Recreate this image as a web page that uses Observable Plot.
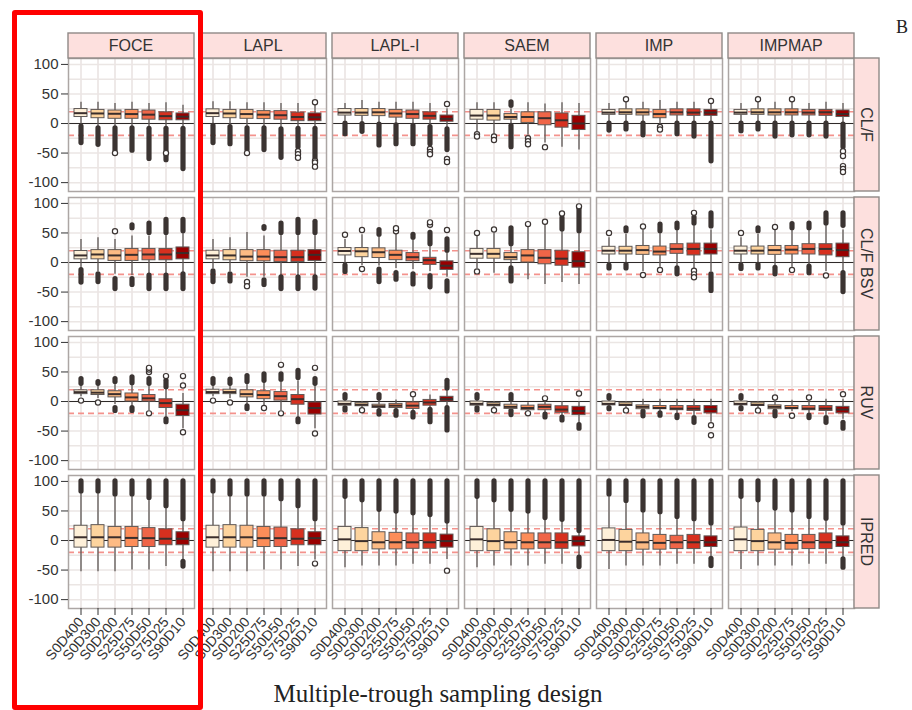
<!DOCTYPE html>
<html>
<head>
<meta charset="utf-8">
<script src="https://cdn.jsdelivr.net/npm/d3@7"></script>
<script src="https://cdn.jsdelivr.net/npm/@observablehq/plot@0.6"></script>
<style>
  body { margin: 0; background: #fff; }
  #wrap { position: relative; width: 912px; height: 710px; overflow: hidden; }
  #wrap svg { position: absolute; left: 0; top: 0; }
  .xtitle { position: absolute; top: 681px; left: 438px; transform: translateX(-50%);
            font: 25px/1 "Liberation Serif", "Times New Roman", serif; color: #222; white-space: nowrap; }
  .tag { position: absolute; top: 18px; left: 896px; font: 18px/1 "Liberation Serif", "Times New Roman", serif; color: #222; }
  .highlight { position: absolute; left: 12px; top: 10px; width: 191px; height: 700px;
               box-sizing: border-box; border: 5px solid #ff0000; border-radius: 3px; pointer-events: none; }
</style>
</head>
<body>
<div id="wrap"></div>
<script>
// Estimation methods (columns), parameters (rows) and sampling designs (x categories)
const methods = ["FOCE", "LAPL", "LAPL-I", "SAEM", "IMP", "IMPMAP"];
const params = ["CL/F", "CL/F BSV", "RUV", "IPRED"];
const designs = ["S0D400", "S0D300", "S0D200", "S25D75", "S50D50", "S75D25", "S90D10"];
const palette = ["#fef0d9", "#fdd49e", "#fdbb84", "#fc8d59", "#ef6548", "#d7301f", "#990000"];
const yTicks = [100, 50, 0, -50, -100];
const yGrid = [-100, -75, -50, -25, 0, 25, 50, 75, 100];
const refLines = [-20, 20];

// Box statistics per method and design: [lower whisker, Q1, median, Q3, upper whisker]
const clfBoxes = [
  [[-3,11,17.5,24.5,36],[-5,9,17,23,36],[-6,8,16.5,22,34],[-6,8,16,23,36],[-7,6.5,15,22,34],[-7,5.5,12.5,19,35],[-7,5.5,11.5,17,31]],
  [[-2,11,17.5,24,37],[-4,9,17,23,37],[-6,8,16,23,35],[-6,7.5,15,21,35],[-8,6.5,14,21,34],[-7,4,11,18.5,34],[-7,4,10.5,17,33]],
  [[4,13.5,18.5,24.5,34],[2,13,18.5,24.5,39],[0,12.5,19,24.5,36],[-1,10,17,23,36],[-2,8,16,22,36],[-4,6.5,13,19,34],[-8,3,8,13.5,25]],
  [[-14,6.5,13.5,23,35],[-18,5,13.5,23,35],[-2,6.5,11,16,25],[-20,1,11,19,35],[-33,-3,9,19,33],[-40,-7,5.5,17,35],[-45,-11,0,13,34]],
  [[2,14.7,18.5,23,34],[3,14.7,19,24,36],[2,13.6,19,24,36],[-2,9,16,23,39],[2,13.6,19,24,36],[2,13,18.5,24,36],[2,13,18.5,23,34]],
  [[2,14.7,18.5,23,34],[3,14.7,19,24,36],[2,13.6,19,24,36],[2,13.6,19,24,36],[3,13.6,18.5,23,34],[2,13,19,23,36],[0,11,16,22,34]]
];
const bsvBoxes = [
  [[-10,5.4,12,19.5,39],[-15,5.4,13.6,21,42],[-20,2.7,12,21,39],[-22,2.7,13,23,45],[-20,3.8,13.6,23,45],[-20,3.8,13.6,23,47],[-18,5.4,16,25.5,50]],
  [[-10,5.4,12,20,39],[-15,3.8,12,21,42],[-25,2.2,10,21,51],[-25,2,10,21,45],[-22,1,9,20,47],[-22,1,9,20,47],[-22,2.7,13,21,50]],
  [[-2,12,19.5,24.5,39],[-5,9,19,24.5,47],[-6,7.6,17.4,24,45],[-10,4,13,20,48],[-12,2.2,9,16,40],[-15,-4,4,8,28],[-25,-12.5,-5.4,2,18]],
  [[-10,6.5,14.7,23,45],[-18,6.5,14.7,23,53],[-8,4,9,16,28],[-29,0,12,21,61],[-37,-3,8,21,66],[-34,-5.4,6.5,20,55],[-37,-8.7,2.2,17.4,52]],
  [[-3,13.6,20,26.6,42],[-3,13.6,20,26.6,48],[-15,13,21,28,55],[-8,12,18.5,27,50],[-8,14.7,23,31,56],[-10,12,23,32,64],[-15,13.6,23,32,55]],
  [[-3,13.6,20,27,42],[-3,13.6,20,27,48],[-8,13,21,28,55],[-8,13.6,21.7,28,55],[-5,13.6,23,31,56],[-15,12,23,31,64],[-15,9,21,32,55]]
];
const ruvBoxes = [
  [[8,12.5,15.8,19,27],[5,11,15,19,28],[-5,7,12.5,17.4,30],[-8,0,7,13.6,30],[-15,0,5.4,11,28],[-28,-11,-2.7,3.8,22],[-46,-24.5,-14.7,-5.4,13.6]],
  [[8,12.5,16,20,27],[5,12.5,16,20,28],[-5,7,12.5,19,30],[-8,4,11,17.4,33],[-15,1.6,9,16,35],[-28,-5.4,4,11,35],[-46,-22,-11,-1.6,27]],
  [[-10,-7,-4,0,4],[-12,-8,-5.4,-2.7,0],[-14,-11,-8,-5.4,2],[-14,-11,-7,-4,2.7],[-17,-12.5,-7,-1.6,7],[-12,-7,-1.6,2.7,11],[-8,0,4,8,19]],
  [[-10,-7,-4,0,4],[-12,-8,-5.4,-2.7,0],[-15,-12.5,-9,-5.4,2],[-17,-14.7,-11,-7,-2],[-19,-14.7,-9,-5.4,0],[-25,-19,-13.6,-8,0],[-38,-23,-16,-9,0]],
  [[-10,-6.5,-4,0,4],[-12,-7.6,-5.4,-2,0],[-15,-13,-9,-6.5,4],[-17,-13,-11,-7.6,4],[-20,-14.7,-12,-7.6,4],[-24,-16,-12,-7.6,4],[-35,-20,-13,-7.6,4]],
  [[-10,-6.5,-4,0,4],[-12,-7.6,-5.4,-2,0],[-15,-13,-9,-6.5,4],[-17,-13,-11,-7.6,2],[-20,-14.7,-12,-7.6,4],[-24,-16,-12,-7.6,4],[-30,-20,-13.6,-9,4]]
];
const ipredBoxes = [
  [[-53,-12,5.5,25,82],[-53,-12,5.5,26,82],[-53,-12,5.5,23,78],[-50,-11,4.4,23,78],[-50,-11,4,21,72],[-44,-8,3,19,58],[-33,-8,3,14,36]],
  [[-53,-12,5.5,25,83],[-53,-12,5.5,26,78],[-53,-12,5.5,25,78],[-50,-11,4,23,78],[-50,-11,4,22,70],[-44,-8,3,19,58],[-33,-8,4,14,36]],
  [[-46,-18,2,23,74],[-43,-18,-1,21,68],[-43,-15,-3,14,52],[-43,-15,-3,13,49],[-40,-14,-3,12,46],[-40,-14,-3,12,43],[-32,-12,-1,10,32]],
  [[-46,-18,2,23,74],[-43,-18,-1,19,68],[-43,-15,-3,14,52],[-43,-15,-3,12,49],[-40,-14,-3,12,38],[-40,-14,-3,12,35],[-26,-10,-1,7,16]],
  [[-49,-18,1,20.5,78],[-43,-18,-2,18,67],[-43,-15.5,-3,12,51],[-43,-15.5,-4,9.5,48],[-40,-14.5,-3,8,40],[-40,-14.5,-3,9.5,36],[-29,-11,-3,7,29]],
  [[-49,-18,2,22,74],[-43,-18,-1,18,68],[-43,-15.5,-3,12,54],[-43,-15.5,-4,9.5,51],[-40,-14.5,-3,9.5,40],[-40,-14.5,-3,12,37],[-29,-11,-3,7,29]]
];

// Dense outlier columns: [method index, design index, from, to]
const clfRuns = [
  [0,0,-33,-5],[0,1,-36,-8],[0,2,-46,-8],[0,3,-46,-8],[0,4,-60,-9],[0,5,-62,-9],[0,6,-77,-9],
  [1,0,-33,-4],[1,1,-35,-6],[1,2,-45,-8],[1,3,-45,-8],[1,4,-58,-10],[1,5,-40,-9],[1,6,-58,-9],
  [2,0,-18,0],[2,1,-14,-1],[2,2,-37,-2],[2,3,-35,-3],[2,4,-35,-4],[2,5,-35,-6],[2,6,-45,-10],
  [3,2,-40,-4],[3,2,30,36],
  [4,0,-12,0],[4,1,-10,0],[4,2,-20,0],[4,4,-18,0],[4,5,-22,0],[4,6,-64,0],
  [5,0,-13,0],[5,1,-10,0],[5,2,-22,0],[5,3,-20,0],[5,4,-20,0],[5,5,-22,0],[5,6,-40,-2]
];
const bsvRuns = [
  [0,0,-34,-13],[0,1,-33,-20],[0,2,-45,-28],[0,3,58,63],[0,3,-38,-28],[0,4,50,66],[0,4,-45,-22],[0,5,50,72],[0,5,-45,-22],[0,6,53,72],[0,6,-45,-20],
  [1,0,-33,-15],[1,1,-32,-20],[1,3,57,60],[1,3,-38,-30],[1,4,50,66],[1,4,-45,-25],[1,5,50,72],[1,5,-45,-25],[1,6,50,69],[1,6,-44,-25],
  [2,0,-16,-5],[2,2,47,55],[2,2,-33,-12],[2,3,-29,-18],[2,4,42,47],[2,4,-37,-20],[2,5,31,50],[2,5,-42,-23],[2,6,20,39],[2,6,-49,-32],
  [3,2,31,58],[3,2,-32,-10],[3,5,56,75],[3,6,53,91],
  [4,0,-10,-5],[4,1,53,58],[4,1,-10,-4],[4,3,53,64],[4,4,58,66],[4,4,-20,-10],[4,5,66,76],[4,6,61,83],[4,6,-48,-20],
  [5,0,-11,-5],[5,1,53,58],[5,1,-10,-4],[5,2,-20,-9],[5,3,58,65],[5,4,58,66],[5,4,-18,-7],[5,5,66,83],[5,6,62,83],[5,6,-50,-18]
];
const ruvRuns = [
  [0,0,30,38],[0,1,30,33],[0,2,33,38],[0,2,-16,-11],[0,3,31,41],[0,3,-16,-11],[0,4,30,38],[0,5,24,35],[0,5,-35,-30],
  [1,0,30,38],[1,1,30,37],[1,2,33,43],[1,2,-12.5,-8],[1,3,35,46],[1,4,37,46],[1,5,40,52],[1,5,-35,-30],[1,6,30,38],
  [2,0,5,11],[2,0,-15,-11],[2,2,5,11],[2,2,-22,-16],[2,3,-24,-16],[2,4,-27,-19],[2,5,-35,-14],[2,6,22,35],[2,6,-49,-11],
  [3,0,5,11],[3,0,-15,-11],[3,2,3,11],[3,2,-23,-16],[3,4,-27,-22],[3,5,-32,-27],[3,6,-46,-40],
  [4,0,5,9],[4,0,-13,-11],[4,2,-25,-17],[4,3,-24,-20],[4,4,-28,-24],[4,5,-36,-28],
  [5,0,5,9],[5,0,-13,-11],[5,2,-25,-17],[5,4,-28,-24],[5,5,-36,-28],[5,6,-46,-36]
];
const ipredRuns = [
  [0,0,83,100],[0,1,83,100],[0,2,78,100],[0,3,78,100],[0,4,72,100],[0,5,58,100],[0,6,36,100],[0,6,-44,-36],
  [1,0,83,100],[1,1,78,100],[1,2,78,100],[1,3,78,100],[1,4,70,100],[1,5,58,100],[1,6,36,100],
  [2,0,74,100],[2,1,68,100],[2,2,52,100],[2,3,49,100],[2,4,46,100],[2,5,43,100],[2,6,32,100],
  [3,0,74,100],[3,1,68,100],[3,2,52,100],[3,3,49,100],[3,4,38,100],[3,5,35,100],[3,6,16,100],[3,6,-45,-29],
  [4,0,78,100],[4,1,67,100],[4,2,51,100],[4,3,48,100],[4,4,40,100],[4,5,36,100],[4,6,29,100],[4,6,-43,-31],
  [5,0,74,100],[5,1,68,100],[5,2,54,100],[5,3,51,100],[5,4,40,100],[5,5,37,100],[5,6,29,100],[5,6,-46,-32]
];

// Isolated outliers: [method index, design index, value]
const clfPoints = [
  [0,2,-50],[0,5,-50],[1,2,-50],[1,5,-47],[1,5,-52],[1,5,-58],[1,6,36],[1,6,-63],[1,6,-66],[1,6,-73],
  [2,5,-43],[2,5,-48],[2,5,-52],[2,6,33],[2,6,-60],[2,6,-65],
  [3,0,-18],[3,0,-22],[3,1,-22],[3,1,-28],[3,3,-25],[3,3,-30],[3,3,-35],[3,4,-40],
  [4,1,41],[4,3,-6],[4,3,-10],[4,6,38],
  [5,1,41],[5,3,41],[5,6,-47],[5,6,-55],[5,6,-72],[5,6,-77],[5,6,-82]
];
const bsvPoints = [
  [0,2,53],[1,2,-33],[1,2,-40],[2,0,47],[2,1,55],[2,1,-11],[2,3,53],[2,3,58],[2,5,64],[2,5,68],[2,6,55],
  [3,0,50],[3,0,-15],[3,1,56],[3,3,65],[3,4,69],[3,5,83],[3,6,95],
  [4,0,50],[4,2,61],[4,2,-21],[4,3,-12.5],[4,5,84],[4,5,-14],[4,5,-20],[4,5,-25],
  [5,0,50],[5,2,60],[5,3,-12.5],[5,5,-22]
];
const ruvPoints = [
  [0,0,1.6],[0,1,-1.6],[0,4,50],[0,4,54],[0,4,57],[0,4,-20],[0,5,43],[0,6,27],[0,6,43],[0,6,-52],
  [1,0,1.6],[1,1,-1.6],[1,3,-11],[1,4,62],[1,4,-20],[1,6,57],[1,6,-54],
  [2,1,-14.7],[2,4,12.5],
  [3,1,-14.7],[3,3,-20],[3,4,5.4],[3,6,13.6],
  [4,1,-15],[4,6,-40],[4,6,-57],
  [5,1,-15],[5,2,7],[5,3,-24],[5,4,7],[5,6,12.5]
];
const ipredPoints = [[1,6,-39],[2,6,-51]];

// Flatten into tidy tables for the faceted marks
const boxTables = [clfBoxes, bsvBoxes, ruvBoxes, ipredBoxes];
const runTables = [clfRuns, bsvRuns, ruvRuns, ipredRuns];
const pointTables = [clfPoints, bsvPoints, ruvPoints, ipredPoints];

const boxes = boxTables.flatMap((table, pi) =>
  table.flatMap((row, mi) => row.map(([lo, q1, med, q3, hi], di) =>
    ({param: params[pi], method: methods[mi], design: designs[di], lo, q1, med, q3, hi}))));
const runs = runTables.flatMap((list, pi) =>
  list.map(([mi, di, from, to]) => ({param: params[pi], method: methods[mi], design: designs[di], from, to})));
const points = pointTables.flatMap((list, pi) =>
  list.map(([mi, di, v]) => ({param: params[pi], method: methods[mi], design: designs[di], v})));

const facet = {fx: "method", fy: "param"};
const ink = "#3b3432";

const plot = Plot.plot({
  width: 912,
  height: 672,
  marginLeft: 68,
  marginRight: 58,
  marginTop: 57,
  marginBottom: 62,
  style: {fontFamily: "'Liberation Sans', Arial, sans-serif", color: "#333", background: "transparent"},
  fx: {domain: methods, paddingInner: 0.0455, paddingOuter: 0, axis: null},
  fy: {domain: params, paddingInner: 0.04, paddingOuter: 0, axis: null},
  x: {domain: designs, paddingInner: 0.25, paddingOuter: 0.225, align: 0.5},
  y: {domain: [-115, 110]},
  color: {domain: designs, range: palette},
  marks: [
    Plot.ruleY(yGrid, {stroke: "#ebe6e4", strokeWidth: 1.5}),
    Plot.ruleX(designs, {x: d => d, stroke: "#ebe6e4", strokeWidth: 1.7}),
    Plot.ruleY(refLines, {stroke: "#f4928c", strokeWidth: 1.6, strokeDasharray: "6,4"}),
    Plot.ruleY([0], {stroke: "#2e2a29", strokeWidth: 1.2}),
    Plot.ruleX(boxes, {...facet, x: "design", y1: "lo", y2: "hi", stroke: "#5e5856", strokeWidth: 1.3}),
    Plot.ruleX(runs, {...facet, x: "design", y1: "from", y2: "to", stroke: ink, strokeWidth: 5.2, strokeLinecap: "round"}),
    Plot.dot(points, {...facet, x: "design", y: "v", r: 2.6, stroke: ink, fill: "white", strokeWidth: 1.2}),
    Plot.barY(boxes, {...facet, x: "design", y1: "q1", y2: "q3", fill: "design", stroke: "#5e5856", strokeWidth: 1}),
    Plot.tickY(boxes, {...facet, x: "design", y: "med", stroke: "#3a2e2c", strokeWidth: 2}),
    Plot.frame({stroke: "#aca6a4", strokeWidth: 1.5}),
    Plot.axisY(yTicks, {tickSize: 7, tickPadding: 3, fontSize: 15, tickFormat: d => `${d}`, label: null, stroke: "#333"}),
    Plot.axisX({tickRotate: -50, tickSize: 7, tickPadding: 4, fontSize: 14, label: null, stroke: "#333"})
  ]
});

// Facet strips: method names across the top, parameter names down the right side
const fx = plot.scale("fx");
const fy = plot.scale("fy");
const svg = d3.select(plot);
const strips = svg.append("g").attr("font-family", "'Liberation Sans', Arial, sans-serif")
  .attr("font-size", 16).attr("fill", "#333");
const stripSize = 25;
const top0 = fy.apply(params[0]);
methods.forEach(m => {
  const x0 = fx.apply(m);
  strips.append("rect").attr("x", x0).attr("y", top0 - stripSize)
    .attr("width", fx.bandwidth).attr("height", stripSize)
    .attr("fill", "#fde0de").attr("stroke", "#8f8987").attr("stroke-width", 1.4);
  strips.append("text").attr("x", x0 + fx.bandwidth / 2).attr("y", top0 - stripSize / 2)
    .attr("dy", "0.36em").attr("text-anchor", "middle").attr("fill", "#333").text(m);
});
const right0 = fx.apply(methods[methods.length - 1]) + fx.bandwidth;
params.forEach(p => {
  const y0 = fy.apply(p);
  strips.append("rect").attr("x", right0).attr("y", y0)
    .attr("width", stripSize).attr("height", fy.bandwidth)
    .attr("fill", "#fde0de").attr("stroke", "#8f8987").attr("stroke-width", 1.4);
  strips.append("text")
    .attr("transform", `translate(${right0 + stripSize / 2},${y0 + fy.bandwidth / 2}) rotate(90)`)
    .attr("dy", "0.36em").attr("text-anchor", "middle").attr("fill", "#333").text(p);
});

const wrap = document.getElementById("wrap");
wrap.appendChild(plot);

const title = document.createElement("div");
title.className = "xtitle";
title.textContent = "Multiple-trough sampling design";
wrap.appendChild(title);

const tag = document.createElement("div");
tag.className = "tag";
tag.textContent = "B";
wrap.appendChild(tag);

const box = document.createElement("div");
box.className = "highlight";
wrap.appendChild(box);
</script>
</body>
</html>
